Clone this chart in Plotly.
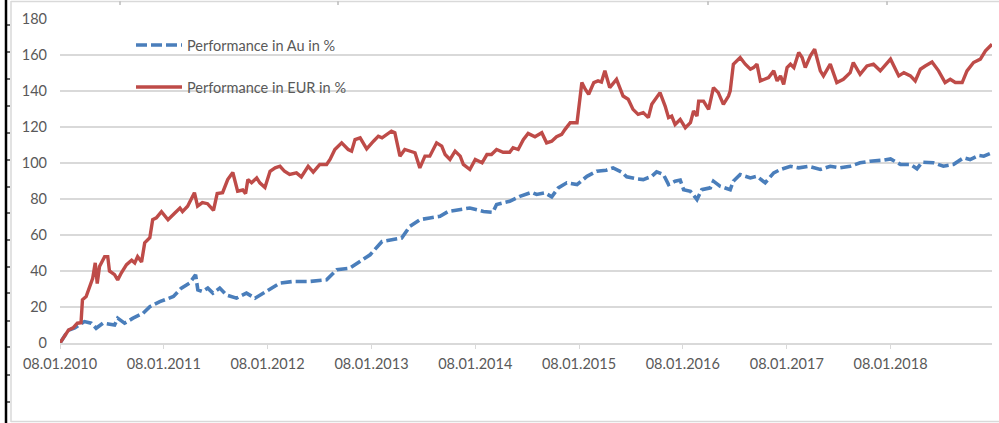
import plotly.graph_objects as go

# ---------------- data ----------------
eur_dates = [
    "2010-01-08","2010-02-07","2010-02-23","2010-03-10","2010-03-23","2010-03-28","2010-04-10","2010-04-22",
    "2010-05-03","2010-05-12","2010-05-19","2010-05-27","2010-06-14","2010-06-25","2010-07-01","2010-07-19",
    "2010-07-30","2010-08-12","2010-08-30","2010-09-17","2010-09-28","2010-10-08","2010-10-22","2010-11-02",
    "2010-11-20","2010-11-30","2010-12-13","2010-12-31","2011-01-23","2011-02-17","2011-03-06","2011-03-15",
    "2011-04-02","2011-04-26","2011-05-07","2011-05-24","2011-06-11","2011-07-02","2011-07-15","2011-08-03",
    "2011-08-21","2011-09-08","2011-09-25","2011-10-13","2011-10-23","2011-10-31","2011-11-13","2011-12-01",
    "2011-12-12","2011-12-30","2012-01-17","2012-02-04","2012-02-21","2012-03-08","2012-03-26","2012-04-19",
    "2012-05-06","2012-05-30","2012-06-17","2012-07-10","2012-08-03","2012-08-15","2012-09-01","2012-09-25",
    "2012-10-18","2012-10-30","2012-11-11","2012-11-29","2012-12-22","2013-01-15","2013-02-01","2013-02-14",
    "2013-03-03","2013-03-19","2013-03-31","2013-04-18","2013-05-05","2013-05-23","2013-06-10","2013-06-27",
    "2013-07-15","2013-08-01","2013-08-25","2013-09-12","2013-09-24","2013-10-11","2013-10-29","2013-11-16",
    "2013-11-27","2013-12-20","2014-01-08","2014-02-01","2014-02-18","2014-03-06","2014-03-24","2014-04-16",
    "2014-05-09","2014-05-21","2014-06-08","2014-06-26","2014-07-13","2014-08-06","2014-08-30","2014-09-16",
    "2014-10-04","2014-10-21","2014-11-08","2014-11-20","2014-12-08","2015-01-01","2015-01-18","2015-01-30",
    "2015-02-11","2015-03-01","2015-03-16","2015-03-28","2015-04-09","2015-04-26","2015-05-20","2015-06-12",
    "2015-06-30","2015-07-17","2015-08-04","2015-08-22","2015-09-09","2015-09-21","2015-10-08","2015-10-20",
    "2015-11-07","2015-11-19","2015-11-30","2015-12-12","2015-12-30","2016-01-17","2016-02-04","2016-02-15",
    "2016-02-27","2016-03-04","2016-03-21","2016-04-08","2016-04-25","2016-05-12","2016-05-30","2016-06-17",
    "2016-06-23","2016-07-04","2016-07-28","2016-08-15","2016-09-02","2016-09-13","2016-09-25","2016-10-07",
    "2016-11-05","2016-11-23","2016-12-05","2016-12-17","2016-12-28","2017-01-09","2017-01-21","2017-02-02",
    "2017-02-19","2017-03-03","2017-03-14","2017-04-01","2017-04-16","2017-05-06","2017-05-17","2017-06-10",
    "2017-07-03","2017-07-26","2017-08-19","2017-08-30","2017-09-23","2017-10-17","2017-11-09","2017-12-03",
    "2018-01-08","2018-02-06","2018-02-24","2018-03-19","2018-04-05","2018-04-23","2018-05-10","2018-06-03",
    "2018-06-26","2018-07-19","2018-08-06","2018-08-24","2018-09-17","2018-10-04","2018-10-27","2018-11-20",
    "2018-12-08","2018-12-31",
]
eur_values = [
    0, 7.2, 8.4, 11, 11.3, 24, 25.8, 31,
    36, 44.5, 33, 42.5, 48, 48, 40, 38,
    35, 39, 43.5, 46, 44.5, 48, 45, 55.6,
    58.5, 68.5, 69.5, 73, 68.5, 72.4, 75, 73,
    76, 83.5, 76, 78, 77.4, 73.7, 83, 83.5,
    90.8, 94.7, 84.3, 85, 83, 90.8, 89, 91.7,
    89, 86.4, 95.4, 97.3, 98.2, 95.4, 93.6, 94.5,
    92.3, 98.2, 94.9, 99.2, 99.2, 102, 107.5, 111.2,
    107.5, 106.6, 113, 114, 107.9, 112.1, 114.9, 114,
    115.9, 117.7, 116.8, 103.8, 107.5, 106.6, 105.7, 97.3,
    103.8, 103.8, 111.2, 109.4, 104.7, 102, 106.6, 103.8,
    99.2, 96.4, 102, 100.1, 104.7, 104.7, 107.5, 106,
    106, 108.5, 107.5, 113, 116.4, 114.6, 116.8, 111.2,
    112.1, 114.6, 115.9, 118.7, 122.4, 122.4, 144.7, 141,
    138.2, 144.7, 145.6, 145, 151.2, 141.9, 146.5, 137.2,
    135.4, 129.8, 127, 128, 125.2, 132.6, 136.3, 139.1,
    131.6, 125.2, 126.1, 121.4, 124.2, 119.6, 122.4, 128.9,
    126.1, 134.4, 134.4, 129.8, 141.9, 139.1, 132.6, 137.2,
    140, 154.9, 158.6, 154.9, 152.1, 153, 154.9, 145.6,
    147.5, 151.2, 145.6, 148.4, 143.7, 153, 154.9, 153,
    161.4, 158.6, 153, 159.6, 163.2, 151.2, 148.4, 154.9,
    144.7, 146.5, 150.2, 155.8, 149.3, 153.9, 154.9, 151.2,
    157.7, 148.4, 150.2, 148.4, 145.6, 152.1, 153.9, 156.1,
    151.2, 144.7, 146.5, 144.7, 144.7, 151.2, 155.8, 157.7,
    162.3, 166,
]

au_dates = [
    "2010-01-08","2010-02-06","2010-03-01","2010-04-04","2010-04-28","2010-05-15","2010-06-08","2010-07-01",
    "2010-07-19","2010-07-30","2010-08-23","2010-09-22","2010-10-27","2010-11-20","2010-12-25","2011-02-11",
    "2011-03-11","2011-04-09","2011-04-30","2011-05-08","2011-05-25","2011-06-12","2011-06-30","2011-07-24",
    "2011-08-16","2011-09-21","2011-10-26","2011-11-25","2011-12-24","2012-01-17","2012-02-21","2012-04-07",
    "2012-06-05","2012-08-03","2012-09-08","2012-10-24","2012-11-29","2013-01-03","2013-02-14","2013-03-25",
    "2013-04-24","2013-05-23","2013-06-27","2013-08-01","2013-09-06","2013-10-05","2013-11-16","2013-12-20",
    "2014-02-06","2014-03-11","2014-03-24","2014-05-09","2014-06-14","2014-07-25","2014-08-12","2014-09-10",
    "2014-10-04","2014-10-27","2014-11-26","2015-01-01","2015-02-05","2015-03-11","2015-04-14","2015-05-08",
    "2015-06-07","2015-06-25","2015-07-29","2015-08-22","2015-09-21","2015-10-08","2015-11-01","2015-11-19",
    "2015-12-12","2015-12-30","2016-01-11","2016-02-04","2016-02-27","2016-03-15","2016-04-14","2016-04-25",
    "2016-05-18","2016-06-23","2016-07-04","2016-07-28","2016-09-02","2016-09-25","2016-10-24","2016-11-23",
    "2016-12-17","2017-01-21","2017-02-19","2017-03-25","2017-05-06","2017-06-10","2017-07-14","2017-08-19",
    "2017-09-23","2017-10-28","2017-12-14","2018-01-08","2018-02-12","2018-03-19","2018-04-11","2018-04-29",
    "2018-06-08","2018-07-13","2018-08-17","2018-09-22","2018-10-15","2018-11-14","2018-12-02","2018-12-31",
]
au_values = [
    0, 7, 8.4, 11.9, 11, 8.2, 11, 10.5,
    10, 13.8, 11, 13.8, 16.5, 20.2, 23, 25.8,
    30.5, 33.3, 37.9, 29.5, 28.6, 30.5, 27.7, 30.5,
    26.7, 24.9, 27.7, 24.9, 27.7, 30.5, 33.3, 34.2,
    34.2, 35.1, 40.7, 41.6, 45.3, 49, 56.4, 57.4,
    58.3, 64.8, 68.5, 69.5, 70.4, 73.1, 74.1, 75,
    73.1, 72.6, 76.9, 78.7, 81.5, 83.7, 82.5, 83.4,
    81.2, 86.2, 89, 88, 92.6, 95.4, 96, 97.3,
    94.9, 92.3, 91.2, 90.8, 92.6, 95.1, 93.6, 88,
    89.9, 90.5, 85.2, 84.3, 79.7, 85.2, 86.2, 89.9,
    87.1, 85.2, 89.9, 93.6, 91.7, 92.6, 89, 94.5,
    96.4, 98.2, 97.3, 98.2, 96.4, 98.2, 97.3, 98.2,
    100.1, 101, 101.6, 102.3, 99.2, 99.2, 96.8, 100.5,
    100.1, 98.2, 99.2, 102.9, 101.9, 104.2, 103.8, 105.7,
]

series_names = ["Performance in Au in %", "Performance in EUR in %"]
x_tick_dates = ["2010-01-08","2011-01-08","2012-01-08","2013-01-08","2014-01-08",
                "2015-01-08","2016-01-08","2017-01-08","2018-01-08"]
x_tick_labels = ["08.01.2010","08.01.2011","08.01.2012","08.01.2013","08.01.2014",
                 "08.01.2015","08.01.2016","08.01.2017","08.01.2018"]
y_ticks = [0, 20, 40, 60, 80, 100, 120, 140, 160, 180]

# ---------------- styling ----------------
W, H = 999, 423
L, R, T, B = 60, 992, 19, 343          # plot area in pixels
BLUE = "#4A7EBB"
RED = "#BE4B48"
GRID = "#D9D9D9"
TXT = "#595959"
FONT = "Lato"
FS = 14.5

def px(xp):
    return (xp - L) / (R - L)

def py(yp):
    return (B - yp) / (B - T)

fig = go.Figure()
fig.add_trace(go.Scatter(x=au_dates, y=au_values, mode="lines", name=series_names[0],
                         line=dict(color=BLUE, width=3.6, dash="11px,4px"), showlegend=False))
fig.add_trace(go.Scatter(x=eur_dates, y=eur_values, mode="lines", name=series_names[1],
                         line=dict(color=RED, width=3.4), showlegend=False))

shapes = []
# legend symbols (drawn manually for Excel-like long keys)
shapes.append(dict(type="line", xref="paper", yref="paper", x0=px(136), x1=px(182), y0=py(45), y1=py(45),
                   line=dict(color=BLUE, width=3.6, dash="11px,4px")))
shapes.append(dict(type="line", xref="paper", yref="paper", x0=px(136), x1=px(182), y0=py(87), y1=py(87),
                   line=dict(color=RED, width=3.4)))
# outer decorations of the screenshot frame
shapes.append(dict(type="line", xref="paper", yref="paper", x0=px(6), x1=px(6), y0=py(0), y1=py(H),
                   line=dict(color="black", width=2.5)))
for ty in [25, 52, 79, 106, 133, 160, 187, 213, 240, 267, 293, 321, 347, 375, 402]:
    shapes.append(dict(type="line", xref="paper", yref="paper", x0=px(6), x1=px(10), y0=py(ty), y1=py(ty),
                       line=dict(color="black", width=1.2)))
shapes.append(dict(type="line", xref="paper", yref="paper", x0=px(11), x1=px(11), y0=py(1), y1=py(422),
                   line=dict(color=GRID, width=1.5)))
shapes.append(dict(type="line", xref="paper", yref="paper", x0=px(11), x1=px(999), y0=py(421.5), y1=py(421.5),
                   line=dict(color=GRID, width=1.5)))
shapes.append(dict(type="line", xref="paper", yref="paper", x0=px(11), x1=px(999), y0=py(1.5), y1=py(1.5),
                   line=dict(color=GRID, width=1.5)))
for tx in [120, 338, 708, 887]:
    shapes.append(dict(type="line", xref="paper", yref="paper", x0=px(tx), x1=px(tx), y0=py(1.5), y1=py(5),
                       line=dict(color="#9A9A9A", width=1)))

annotations = [
    dict(text=series_names[0], xref="paper", yref="paper", x=px(185), y=py(45), xanchor="left", yanchor="middle",
         showarrow=False, font=dict(family=FONT, size=FS, color=TXT)),
    dict(text=series_names[1], xref="paper", yref="paper", x=px(185), y=py(87), xanchor="left", yanchor="middle",
         showarrow=False, font=dict(family=FONT, size=FS, color=TXT)),
]

fig.update_layout(
    width=W, height=H,
    margin=dict(l=L, r=W - R, t=T, b=H - B, pad=0),
    paper_bgcolor="white", plot_bgcolor="white",
    font=dict(family=FONT, size=FS, color=TXT),
    shapes=shapes, annotations=annotations,
    xaxis=dict(type="date", range=["2010-01-08", "2018-12-31"],
               tickmode="array", tickvals=x_tick_dates, ticktext=x_tick_labels,
               showgrid=False, zeroline=False,
               showline=True, linecolor=GRID, linewidth=1.5,
               ticks="outside", ticklen=4, tickcolor=GRID, tickwidth=1,
               ticklabelstandoff=3, tickfont=dict(family=FONT, size=FS, color=TXT)),
    yaxis=dict(range=[0, 180], tickmode="array", tickvals=y_ticks,
               showgrid=True, gridcolor=GRID, gridwidth=1.5, zeroline=False,
               showline=False, ticks="", ticklabelstandoff=12,
               tickfont=dict(family=FONT, size=FS, color=TXT)),
)

fig.write_html("out.html", config={"displayModeBar": False},
               post_script="document.body.style.margin='0';document.body.style.overflow='hidden';")
